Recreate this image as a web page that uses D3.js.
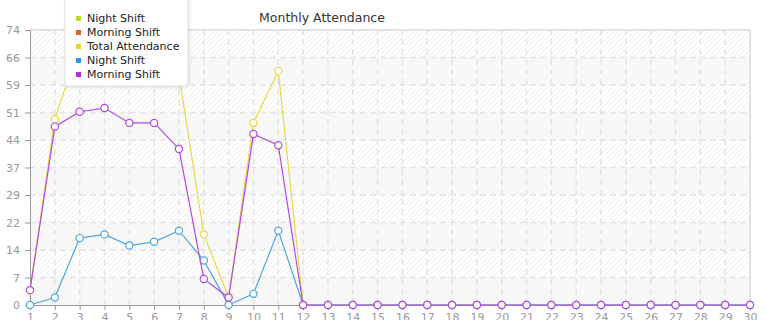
<!DOCTYPE html>
<html>
<head>
<meta charset="utf-8">
<script src="https://cdn.jsdelivr.net/npm/d3@7"></script>
<style>
  body { margin: 0; background: #fff; }
  svg { font-family: "DejaVu Sans", sans-serif; display: block; }
</style>
</head>
<body>
<script>
// data
var days = [1, 2, 3, 4, 5, 6, 7, 8, 9, 10, 11, 12, 13, 14, 15, 16, 17, 18, 19, 20,
    21, 22, 23, 24, 25, 26, 27, 28, 29, 30];
var nightShift = [0, 2, 18, 19, 16, 17, 20, 12, 0, 3, 20, 0, 0, 0, 0, 0, 0, 0, 0, 0,
    0, 0, 0, 0, 0, 0, 0, 0, 0, 0];
var morningShift = [4, 48, 52, 53, 49, 49, 42, 7, 2, 46, 43, 0, 0, 0, 0, 0, 0, 0, 0, 0,
    0, 0, 0, 0, 0, 0, 0, 0, 0, 0];
var totalAttendance = [4, 50, 70, 72, 65, 66, 62, 19, 2, 49, 63, 0, 0, 0, 0, 0, 0, 0, 0, 0,
    0, 0, 0, 0, 0, 0, 0, 0, 0, 0];
var yTickValues = [0, 7.4, 14.8, 22.2, 29.6, 37, 44.4, 51.8, 59.2, 66.6, 74];
var yTickLabels = ["0", "7", "14", "22", "29", "37", "44", "51", "59", "66", "74"];
var legendNames = ["Night Shift", "Morning Shift", "Total Attendance", "Night Shift", "Morning Shift"];
var legendColors = ["#b5dd2f", "#e0622a", "#e2d62b", "#3399e0", "#b22ee0"];

//setup
var width = 765, height = 320;
var margin = { top: 30, bottom: 15, right: 15, left: 30 };

var svg = d3.select("body")
    .append("svg")
    .attr("width", width)
    .attr("height", height);

var x = d3.scaleLinear()
    .domain([1, 30])
    .range([margin.left, width - margin.right]);
var y = d3.scaleLinear()
    .domain([0, 74])
    .range([height - margin.bottom, margin.top]);

var defs = svg.append("defs");
var pat = defs.append("pattern")
    .attr("id", "hatch")
    .attr("patternUnits", "userSpaceOnUse")
    .attr("width", 5).attr("height", 5);
pat.append("rect").attr("width", 5).attr("height", 5).attr("fill", "#fff");
pat.append("path")
    .attr("d", "M0,5 L5,0 M-1,1 L1,-1 M4,6 L6,4")
    .attr("stroke", "#ededed")
    .attr("stroke-width", 1);

defs.append("clipPath").attr("id", "plotclip")
    .append("rect")
    .attr("x", 0).attr("y", y(74))
    .attr("width", width).attr("height", height);

var shadow = defs.append("filter").attr("id", "shadow")
    .attr("x", "-10%").attr("y", "-10%").attr("width", "130%").attr("height", "130%");
shadow.append("feDropShadow")
    .attr("dx", 1).attr("dy", 1).attr("stdDeviation", 1.5)
    .attr("flood-color", "#000").attr("flood-opacity", 0.12);

// background bands
svg.append("rect")
    .attr("x", x(1)).attr("y", y(74))
    .attr("width", x(30) - x(1)).attr("height", y(0) - y(74))
    .attr("fill", "url(#hatch)");
svg.selectAll(".band")
    .data(d3.range(0, yTickValues.length - 1).filter(function (i) { return i % 2 == 0; }))
    .enter().append("rect")
    .attr("x", x(1))
    .attr("y", function (i) { return y(yTickValues[i + 1]); })
    .attr("width", x(30) - x(1))
    .attr("height", function (i) { return y(yTickValues[i]) - y(yTickValues[i + 1]); })
    .attr("fill", "#f7f7f7")
    .attr("fill-opacity", 0.85);

// grid
svg.append("g").selectAll("line")
    .data(yTickValues.slice(1, -1))
    .enter().append("line")
    .attr("x1", x(1)).attr("x2", x(30))
    .attr("y1", function (d) { return y(d); })
    .attr("y2", function (d) { return y(d); })
    .attr("stroke", "#e4e4e4").attr("stroke-width", 1.5)
    .attr("stroke-dasharray", "6,4");
svg.append("g").selectAll("line")
    .data(days.slice(1, -1))
    .enter().append("line")
    .attr("y1", y(0)).attr("y2", y(74))
    .attr("x1", function (d) { return x(d); })
    .attr("x2", function (d) { return x(d); })
    .attr("stroke", "#e4e4e4").attr("stroke-width", 1.5)
    .attr("stroke-dasharray", "6,4");

// top and right border
svg.append("path")
    .attr("d", "M" + x(1) + "," + y(74) + "H" + x(30) + "V" + y(0))
    .attr("fill", "none").attr("stroke", "#e2e2e2").attr("stroke-width", 2);

// axes
var yAxis = svg.append("g")
    .attr("transform", "translate(" + x(1) + ",0)")
    .call(d3.axisLeft(y).tickValues(yTickValues)
        .tickFormat(function (d, i) { return yTickLabels[i]; })
        .tickSize(5).tickPadding(5));
var xAxis = svg.append("g")
    .attr("transform", "translate(0," + y(0) + ")")
    .call(d3.axisBottom(x).tickValues(days)
        .tickFormat(d3.format("d"))
        .tickSize(5).tickPadding(3));
[yAxis, xAxis].forEach(function (a) {
    a.select(".domain").attr("stroke", "#999");
    a.selectAll(".tick line").attr("stroke", "#999");
    a.selectAll(".tick text").attr("fill", "#999")
        .style("font-size", "11px").style("font-family", "DejaVu Sans, sans-serif");
});

// lines
var series = [
    { values: totalAttendance, color: "#e6da45" },
    { values: nightShift, color: "#4ea6df" },
    { values: morningShift, color: "#b447e2" }
];
var line = d3.line()
    .x(function (d, i) { return x(days[i]); })
    .y(function (d) { return y(d); });

series.forEach(function (s) {
    svg.append("path")
        .datum(s.values)
        .attr("clip-path", "url(#plotclip)")
        .attr("fill", "none")
        .attr("stroke", s.color)
        .attr("stroke-width", 1.2)
        .attr("d", line);
    svg.append("g")
        .attr("clip-path", "url(#plotclip)")
        .selectAll("circle")
        .data(s.values)
        .enter().append("circle")
        .attr("cx", function (d, i) { return x(days[i]); })
        .attr("cy", function (d) { return y(d); })
        .attr("r", 3.6)
        .attr("fill", "#fff")
        .attr("stroke", s.color)
        .attr("stroke-width", 1.2);
});

// legend
var legend = svg.append("g");
legend.append("path")
    .attr("d", "M65,-5 H188 V81 Q188,86 183,86 H65 Z")
    .attr("fill", "#fff")
    .attr("stroke", "#dedede")
    .attr("filter", "url(#shadow)");
var items = legend.selectAll(".item")
    .data(legendNames)
    .enter().append("g")
    .attr("transform", function (d, i) { return "translate(0," + (18 + i * 14) + ")"; });
items.append("rect")
    .attr("x", 76).attr("y", -2)
    .attr("width", 5).attr("height", 5)
    .attr("fill", function (d, i) { return legendColors[i]; });
items.append("text")
    .attr("x", 87).attr("y", 4)
    .style("font-size", "11px")
    .attr("fill", "#222")
    .text(function (d) { return d; });

// title
svg.append("text")
    .attr("x", 322).attr("y", 22)
    .attr("text-anchor", "middle")
    .style("font-size", "12.5px")
    .attr("fill", "#333")
    .text("Monthly Attendance");
</script>
</body>
</html>
